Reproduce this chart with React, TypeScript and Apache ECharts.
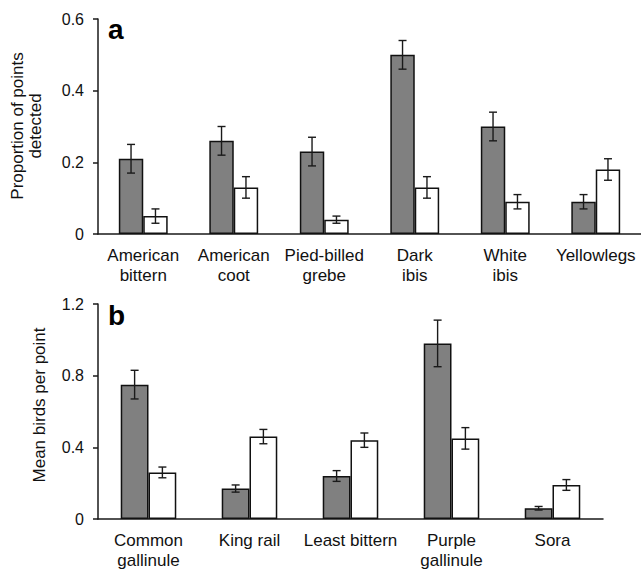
import React, { useEffect, useRef } from "react";
import * as echarts from "echarts";

const catsA = ["American\nbittern", "American\ncoot", "Pied-billed\ngrebe", "Dark\nibis", "White\nibis", "Yellowlegs"];
const grayA = [0.21, 0.26, 0.23, 0.5, 0.3, 0.09];
const grayErrA = [0.04, 0.04, 0.04, 0.04, 0.04, 0.02];
const whiteA = [0.05, 0.13, 0.04, 0.13, 0.09, 0.18];
const whiteErrA = [0.02, 0.03, 0.01, 0.03, 0.02, 0.03];
const ticksA = [0, 0.2, 0.4, 0.6];

const catsB = ["Common\ngallinule", "King rail", "Least bittern", "Purple\ngallinule", "Sora"];
const grayB = [0.75, 0.17, 0.24, 0.98, 0.06];
const grayErrB = [0.08, 0.02, 0.03, 0.13, 0.01];
const whiteB = [0.26, 0.46, 0.44, 0.45, 0.19];
const whiteErrB = [0.03, 0.04, 0.04, 0.06, 0.03];
const ticksB = [0, 0.4, 0.8, 1.2];

const FONT = "Liberation Sans, Arial, sans-serif";
const GAP_A = 0.46;
const GAP_B = 0.45;

function errRender(side: number, gap: number) {
  return (params: any, api: any) => {
    const i = api.value(0);
    const v = api.value(1);
    const e = api.value(2);
    const c = api.coord([i, v]);
    const band = api.size([1, 0])[0];
    const bw = (band * (1 - gap)) / 2;
    const x = c[0] + (side * bw) / 2;
    const top = api.coord([i, v + e])[1];
    const bot = api.coord([i, v - e])[1];
    const hw = 4;
    const style = { stroke: "#1a1a1a", lineWidth: 1.4 };
    return {
      type: "group",
      children: [
        { type: "line", shape: { x1: x, y1: top, x2: x, y2: bot }, style },
        { type: "line", shape: { x1: x - hw, y1: top, x2: x + hw, y2: top }, style },
        { type: "line", shape: { x1: x - hw, y1: bot, x2: x + hw, y2: bot }, style },
      ],
    };
  };
}

function xAxisCfg(cats: string[], gridIndex: number) {
  return {
    type: "category",
    gridIndex,
    data: cats,
    axisLine: { lineStyle: { color: "#1a1a1a", width: 1.5 } },
    axisTick: { length: 5, lineStyle: { color: "#1a1a1a", width: 1.5 } },
    axisLabel: {
      interval: 0,
      fontFamily: FONT,
      fontSize: 17,
      lineHeight: 20,
      color: "#111",
      margin: 11,
    },
  };
}

function yAxisCfg(ticks: number[], gridIndex: number) {
  return {
    type: "value",
    gridIndex,
    min: ticks[0],
    max: ticks[ticks.length - 1],
    interval: ticks[1] - ticks[0],
    splitLine: { show: false },
    axisLine: { show: true, lineStyle: { color: "#1a1a1a", width: 1.5 } },
    axisTick: { show: true, length: 5, lineStyle: { color: "#1a1a1a", width: 1.5 } },
    axisLabel: {
      fontFamily: FONT,
      fontSize: 16,
      color: "#111",
      margin: 14,
    },
  };
}

export default function App() {
  const ref = useRef<HTMLDivElement>(null);
  useEffect(() => {
    if (!ref.current) return;
    const chart = echarts.init(ref.current, undefined, { renderer: "svg" });
    const barStyle = (color: string) => ({ color, borderColor: "#111", borderWidth: 1.5 });
    chart.setOption({
      animation: false,
      grid: [
        { left: 98, top: 19, width: 543, height: 215 },
        { left: 98, top: 304, width: 505, height: 217 },
      ],
      xAxis: [xAxisCfg(catsA, 0), xAxisCfg(catsB, 1)],
      yAxis: [yAxisCfg(ticksA, 0), yAxisCfg(ticksB, 1)],
      graphic: [
        {
          type: "text",
          x: 26,
          y: 126,
          rotation: Math.PI / 2,
          style: {
            text: "Proportion of points\ndetected",
            fontFamily: FONT,
            fontSize: 17,
            lineHeight: 18,
            fill: "#111",
            align: "center",
            verticalAlign: "middle",
          },
        },
        {
          type: "text",
          x: 39,
          y: 405,
          rotation: Math.PI / 2,
          style: {
            text: "Mean birds per point",
            fontFamily: FONT,
            fontSize: 17,
            fill: "#111",
            align: "center",
            verticalAlign: "middle",
          },
        },
        {
          type: "text",
          x: 108,
          y: 29,
          style: {
            text: "a",
            fontFamily: FONT,
            fontSize: 28,
            fontWeight: "bold",
            fill: "#000",
            align: "left",
            verticalAlign: "middle",
          },
        },
        {
          type: "text",
          x: 108,
          y: 315,
          style: {
            text: "b",
            fontFamily: FONT,
            fontSize: 28,
            fontWeight: "bold",
            fill: "#000",
            align: "left",
            verticalAlign: "middle",
          },
        },
      ],
      series: [
        {
          type: "bar",
          xAxisIndex: 0,
          yAxisIndex: 0,
          data: grayA,
          barGap: "0%",
          barCategoryGap: GAP_A * 100 + "%",
          itemStyle: barStyle("#808080"),
        },
        {
          type: "bar",
          xAxisIndex: 0,
          yAxisIndex: 0,
          data: whiteA,
          barGap: "0%",
          barCategoryGap: GAP_A * 100 + "%",
          itemStyle: barStyle("#ffffff"),
        },
        {
          type: "bar",
          xAxisIndex: 1,
          yAxisIndex: 1,
          data: grayB,
          barGap: "0%",
          barCategoryGap: GAP_B * 100 + "%",
          itemStyle: barStyle("#808080"),
        },
        {
          type: "bar",
          xAxisIndex: 1,
          yAxisIndex: 1,
          data: whiteB,
          barGap: "0%",
          barCategoryGap: GAP_B * 100 + "%",
          itemStyle: barStyle("#ffffff"),
        },
        {
          type: "custom",
          xAxisIndex: 0,
          yAxisIndex: 0,
          z: 10,
          renderItem: errRender(-1, GAP_A),
          encode: { x: 0, y: 1 },
          data: grayA.map((v, i) => [i, v, grayErrA[i]]),
        },
        {
          type: "custom",
          xAxisIndex: 0,
          yAxisIndex: 0,
          z: 10,
          renderItem: errRender(1, GAP_A),
          encode: { x: 0, y: 1 },
          data: whiteA.map((v, i) => [i, v, whiteErrA[i]]),
        },
        {
          type: "custom",
          xAxisIndex: 1,
          yAxisIndex: 1,
          z: 10,
          renderItem: errRender(-1, GAP_B),
          encode: { x: 0, y: 1 },
          data: grayB.map((v, i) => [i, v, grayErrB[i]]),
        },
        {
          type: "custom",
          xAxisIndex: 1,
          yAxisIndex: 1,
          z: 10,
          renderItem: errRender(1, GAP_B),
          encode: { x: 0, y: 1 },
          data: whiteB.map((v, i) => [i, v, whiteErrB[i]]),
        },
      ],
    });
    return () => chart.dispose();
  }, []);
  return (
    <div
      ref={ref}
      style={{ position: "absolute", left: 0, top: 0, width: 641, height: 570, background: "#fff" }}
    />
  );
}
